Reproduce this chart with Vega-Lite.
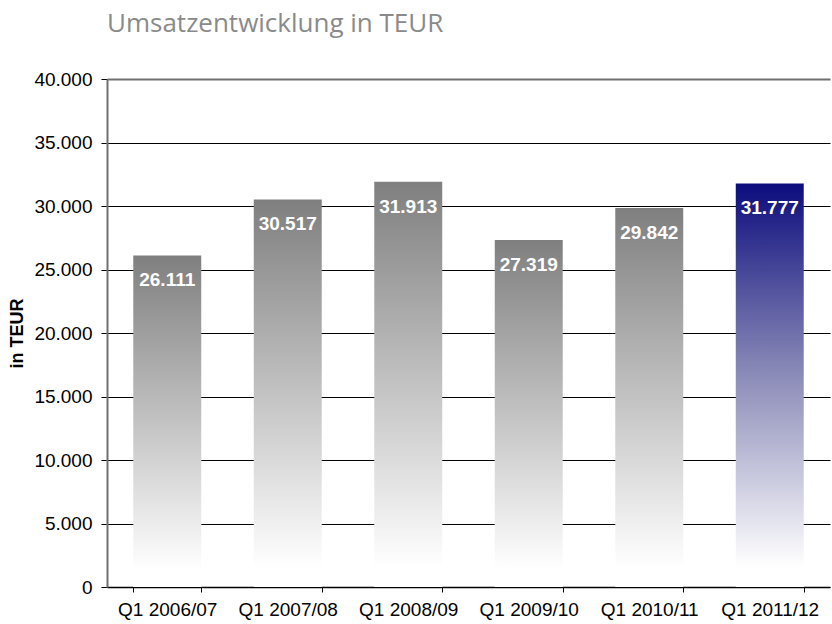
{
  "$schema": "https://vega.github.io/schema/vega-lite/v6.json",
  "autosize": {"type": "none"},
  "padding": {"left": 107, "top": 79, "right": 2, "bottom": 37},
  "width": 723,
  "height": 508,
  "background": "white",
  "config": {
    "locale": {"number": {"decimal": ",", "thousands": ".", "grouping": [3], "currency": ["", " €"]}},
    "view": {"stroke": null},
    "font": "Liberation Sans"
  },
  "title": {
    "text": "Umsatzentwicklung in TEUR",
    "anchor": "start",
    "frame": "group",
    "font": "Open Sans",
    "fontSize": 26,
    "fontWeight": "normal",
    "color": "#8a8a8a",
    "baseline": "alphabetic",
    "offset": 12,
    "dx": 0
  },
  "data": {
    "values": [
      {"quartal": "Q1 2006/07", "umsatz": 26111, "aktuell": false},
      {"quartal": "Q1 2007/08", "umsatz": 30517, "aktuell": false},
      {"quartal": "Q1 2008/09", "umsatz": 31913, "aktuell": false},
      {"quartal": "Q1 2009/10", "umsatz": 27319, "aktuell": false},
      {"quartal": "Q1 2010/11", "umsatz": 29842, "aktuell": false},
      {"quartal": "Q1 2011/12", "umsatz": 31777, "aktuell": true}
    ]
  },
  "encoding": {
    "x": {
      "field": "quartal",
      "type": "nominal",
      "sort": null,
      "scale": {"paddingInner": 0.436, "paddingOuter": 0.218},
      "axis": {
        "title": null,
        "labelAngle": 0,
        "labelFont": "Liberation Sans",
        "labelFontSize": 19,
        "labelColor": "black",
        "labelPadding": 8,
        "tickBand": "extent",
        "tickSize": 5,
        "tickColor": "black",
        "domainColor": "black",
        "domainWidth": 1.5,
        "grid": false
      }
    },
    "y": {
      "field": "umsatz",
      "type": "quantitative",
      "scale": {"domain": [0, 40000], "nice": false},
      "axis": {
        "values": [0, 5000, 10000, 15000, 20000, 25000, 30000, 35000, 40000],
        "format": ",d",
        "title": "in TEUR",
        "titleFont": "Liberation Sans",
        "titleFontSize": 18,
        "titleFontWeight": "bold",
        "titleColor": "black",
        "titleX": -90,
        "titleY": 254,
        "titleAngle": -90,
        "titleAlign": "center",
        "titleBaseline": "middle",
        "labelFont": "Liberation Sans",
        "labelFontSize": 19,
        "labelColor": "black",
        "labelPadding": 9,
        "tickSize": 6,
        "tickColor": "black",
        "domainColor": "#707070",
        "domainWidth": 2,
        "grid": true,
        "gridColor": {"condition": {"test": "datum.value === 40000", "value": "#707070"}, "value": "black"},
        "gridWidth": {"condition": {"test": "datum.value === 40000", "value": 2}, "value": 1},
        "gridOpacity": 1
      }
    }
  },
  "layer": [
    {
      "transform": [{"filter": "!datum.aktuell"}],
      "mark": {
        "type": "bar",
        "color": {
          "gradient": "linear",
          "x1": 0, "y1": 0, "x2": 0, "y2": 1,
          "stops": [
            {"offset": 0, "color": "#7f7f7f"},
            {"offset": 0.95, "color": "#ffffff"},
            {"offset": 1, "color": "#ffffff"}
          ]
        }
      }
    },
    {
      "transform": [{"filter": "datum.aktuell"}],
      "mark": {
        "type": "bar",
        "color": {
          "gradient": "linear",
          "x1": 0, "y1": 0, "x2": 0, "y2": 1,
          "stops": [
            {"offset": 0, "color": "#0c0c7e"},
            {"offset": 0.45, "color": "#8585b5"},
            {"offset": 0.95, "color": "#ffffff"},
            {"offset": 1, "color": "#ffffff"}
          ]
        }
      }
    },
    {
      "mark": {
        "type": "text",
        "font": "Liberation Sans",
        "fontSize": 19,
        "fontWeight": "bold",
        "color": "white",
        "baseline": "alphabetic",
        "align": "center",
        "dy": 31
      },
      "encoding": {
        "text": {"field": "umsatz", "type": "quantitative", "format": ",d"}
      }
    }
  ]
}
